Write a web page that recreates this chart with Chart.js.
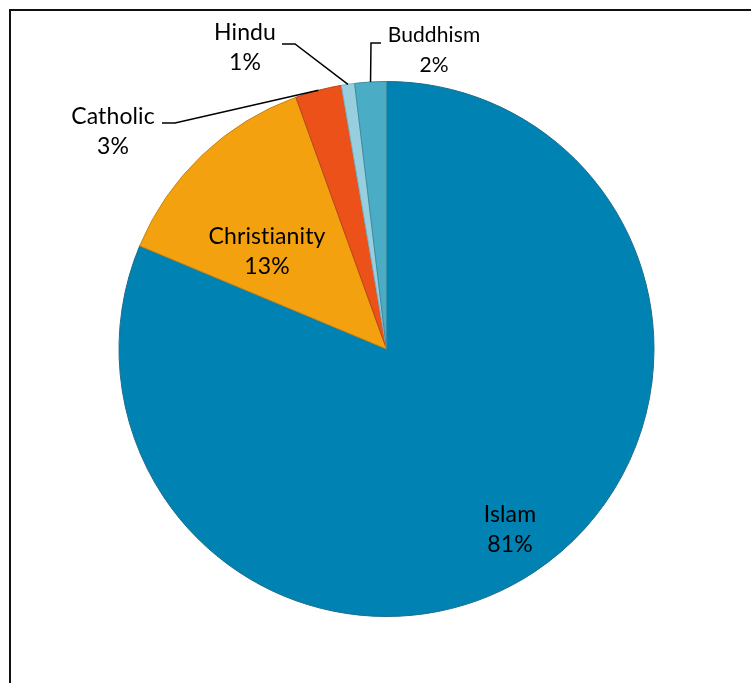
<!DOCTYPE html>
<html>
<head>
<meta charset="utf-8">
<script src="https://cdn.jsdelivr.net/npm/chart.js@4.4.1/dist/chart.umd.min.js"></script>
<style>
    body { margin: 0; background: #ffffff; }
    #wrap { width: 751px; height: 683px; position: relative; }
</style>
</head>
<body>
<div id="wrap"><canvas id="religionChart"></canvas></div>
<script>
const religions = ["Islam", "Christianity", "Catholic", "Hindu", "Buddhism"];
const shares = [81.3, 13.2, 2.8, 0.8, 1.9];
const sliceColors = ["#0082B2", "#F3A10F", "#EB5119", "#98CFDF", "#4BACC6"];
const edgeColors = ["#1D6D8C", "#C9850E", "#B9451A", "#7DB0C0", "#3A8CA3"];

document.addEventListener("DOMContentLoaded", function () {
    const total = shares.reduce(function (a, b) { return a + b; }, 0);

    // frame of the chart area (only top and left edges show in the crop)
    const framePlugin = {
        id: "frame",
        beforeDraw: function (chart) {
            const c = chart.ctx;
            c.save();
            c.strokeStyle = "#111111";
            c.lineWidth = 2;
            c.beginPath();
            c.moveTo(chart.width, 10);
            c.lineTo(10, 10);
            c.lineTo(10, chart.height);
            c.stroke();
            c.restore();
        },
    };

    // data labels with leader lines, excel style
    const labelPlugin = {
        id: "sliceLabels",
        afterDatasetsDraw: function (chart, args, opts) {
            const c = chart.ctx;
            const meta = chart.getDatasetMeta(0);
            c.save();
            meta.data.forEach(function (arc, i) {
                const spot = opts.spots[i];
                const pct = Math.round((shares[i] / total) * 100) + "%";
                if (spot.end) {
                    const mid = (arc.startAngle + arc.endAngle) / 2;
                    const px = arc.x + Math.cos(mid) * arc.outerRadius;
                    const py = arc.y + Math.sin(mid) * arc.outerRadius;
                    const dir = px > spot.end.x ? 1 : -1;
                    c.strokeStyle = "#000000";
                    c.lineWidth = 1.5;
                    c.beginPath();
                    c.moveTo(spot.end.x, spot.end.y);
                    c.lineTo(spot.end.x + dir * spot.elbow, spot.end.y);
                    c.lineTo(px, py);
                    c.stroke();
                }
                c.fillStyle = "#000000";
                c.font = spot.size + "px Lato";
                c.letterSpacing = "0.1px"; // no "ti" ligature
                c.textAlign = "center";
                c.textBaseline = "middle";
                c.fillText(religions[i], spot.x, spot.y - opts.lineGap / 2);
                c.fillText(pct, spot.x, spot.y + opts.lineGap / 2);
            });
            c.restore();
        },
    };

    const ctx = document.getElementById("religionChart");

    new Chart(ctx, {
        type: "pie",
        data: {
            labels: religions,
            datasets: [
                {
                    data: shares,
                    backgroundColor: sliceColors,
                    borderColor: edgeColors,
                    borderWidth: 1,
                },
            ],
        },
        options: {
            responsive: true,
            maintainAspectRatio: false,
            animation: false,
            layout: {
                padding: { top: 81, bottom: 66, left: 118, right: 96 },
            },
            plugins: {
                legend: { display: false },
                tooltip: { enabled: false },
                sliceLabels: {
                    lineGap: 30,
                    spots: [
                        { x: 510, y: 530, size: 23 },
                        { x: 267, y: 252, size: 23 },
                        { x: 113, y: 132, size: 23, end: { x: 162, y: 123 }, elbow: 13 },
                        { x: 245, y: 48, size: 23, end: { x: 282, y: 44 }, elbow: 13 },
                        { x: 434, y: 50, size: 21, end: { x: 381, y: 43 }, elbow: 10 },
                    ],
                },
            },
        },
        plugins: [framePlugin, labelPlugin],
    });
});
</script>
</body>
</html>
